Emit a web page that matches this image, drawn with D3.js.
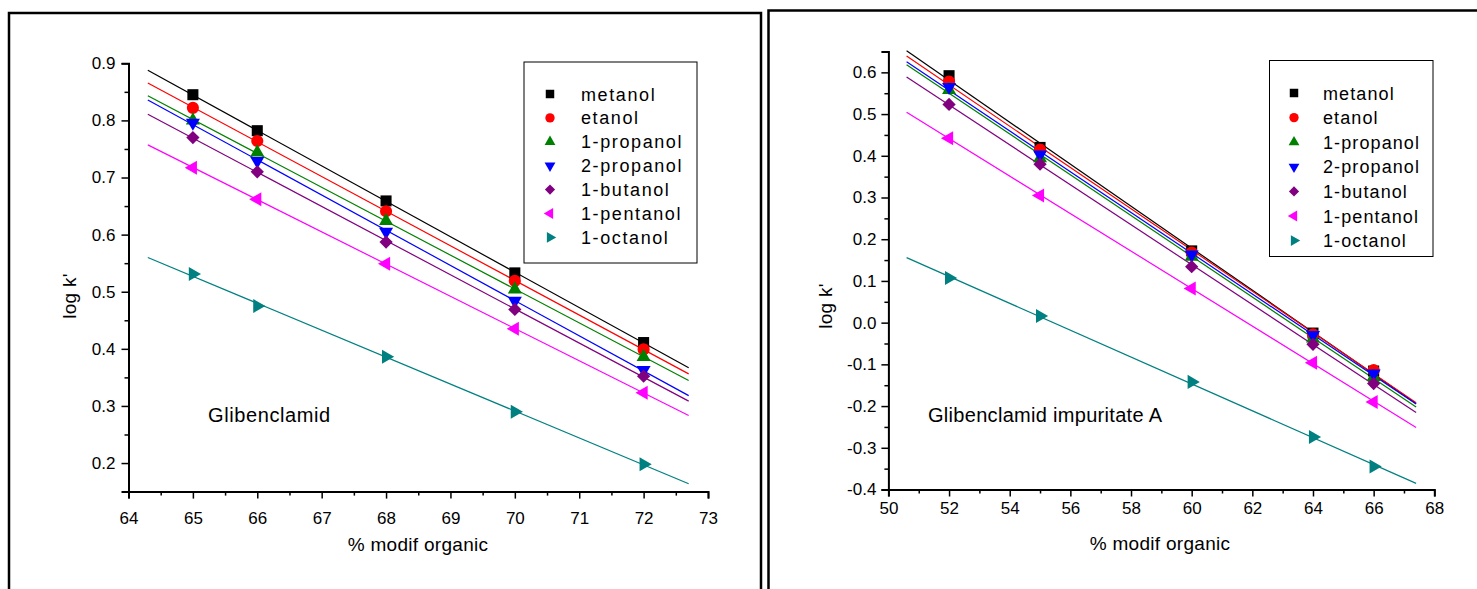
<!DOCTYPE html>
<html>
<head>
<meta charset="utf-8">
<script src="https://cdn.jsdelivr.net/npm/d3@7"></script>
<style>
  html, body { margin: 0; padding: 0; background: #fff; }
  svg { display: block; font-family: "Liberation Sans", Arial, sans-serif; }
</style>
</head>
<body>
<svg id="chart" width="1477" height="589"></svg>
<script>
// Solvent series (modifier alcohols)
const seriesNames = ["metanol", "etanol", "1-propanol", "2-propanol", "1-butanol", "1-pentanol", "1-octanol"];
const seriesColors = ["#000000", "#ff0000", "#008000", "#0000ff", "#800080", "#ff00ff", "#008080"];

// Glibenclamid: log k' vs % organic modifier
const leftX = [65, 66, 68, 70, 72];
const leftMetanol   = [0.845, 0.782, 0.659, 0.533, 0.411];
const leftEtanol    = [0.822, 0.764, 0.641, 0.519, 0.399];
const leftPropanol1 = [0.800, 0.744, 0.624, 0.504, 0.386];
const leftPropanol2 = [0.796, 0.729, 0.605, 0.484, 0.363];
const leftButanol   = [0.770, 0.710, 0.587, 0.469, 0.352];
const leftPentanol  = [0.717, 0.662, 0.549, 0.435, 0.323];
const leftOctanol   = [0.531, 0.475, 0.386, 0.290, 0.198];
const leftXTicks = [64, 65, 66, 67, 68, 69, 70, 71, 72, 73];
const leftYTicks = [0.2, 0.3, 0.4, 0.5, 0.6, 0.7, 0.8, 0.9];

// Glibenclamid impuritate A
const rightX = [52, 55, 60, 64, 66];
const rightMetanol   = [0.592, 0.420, 0.172, -0.025, -0.116];
const rightEtanol    = [0.578, 0.415, 0.168, -0.028, -0.114];
const rightPropanol1 = [0.558, 0.394, 0.158, -0.038, -0.130];
const rightPropanol2 = [0.565, 0.403, 0.163, -0.030, -0.122];
const rightButanol   = [0.523, 0.380, 0.134, -0.052, -0.146];
const rightPentanol  = [0.442, 0.305, 0.082, -0.096, -0.190];
const rightOctanol   = [0.107, 0.016, -0.142, -0.274, -0.345];
const rightXTicks = [50, 52, 54, 56, 58, 60, 62, 64, 66, 68];
const rightYTicks = [-0.4, -0.3, -0.2, -0.1, 0.0, 0.1, 0.2, 0.3, 0.4, 0.5, 0.6];

const svg = d3.select("#chart");

// marker shapes: symbol type + rotation
const markerShapes = [
  { type: d3.symbolSquare, rot: 0, k: 1.0 },
  { type: d3.symbolCircle, rot: 0, k: 0.95 },
  { type: d3.symbolTriangle, rot: 0, k: 0.7 },
  { type: d3.symbolTriangle, rot: 180, k: 0.7 },
  { type: d3.symbolSquare, rot: 45, k: 0.72 },
  { type: d3.symbolTriangle, rot: -90, k: 0.7 },
  { type: d3.symbolTriangle, rot: 90, k: 0.7 }
];

function fitLine(xs, ys) {
  const mx = d3.mean(xs), my = d3.mean(ys);
  let sxy = 0, sxx = 0;
  xs.forEach((x, i) => { sxy += (x - mx) * (ys[i] - my); sxx += (x - mx) * (x - mx); });
  const b = sxy / sxx;
  return x => my + b * (x - mx);
}

const fmt1 = d => d.toFixed(1).replace("\u2212", "-");

function drawPanel(cfg) {
  const g = svg.append("g");
  const x = d3.scaleLinear().domain(cfg.xDomain).range(cfg.xRange);
  const y = d3.scaleLinear().domain(cfg.yDomain).range(cfg.yRange);

  // fitted lines and points
  cfg.series.forEach((vals, si) => {
    const f = fitLine(cfg.xs, vals);
    g.append("line")
      .attr("x1", x(cfg.fitDomain[0])).attr("y1", y(f(cfg.fitDomain[0])))
      .attr("x2", x(cfg.fitDomain[1])).attr("y2", y(f(cfg.fitDomain[1])))
      .attr("stroke", seriesColors[si]).attr("stroke-width", 1.2);
  });
  cfg.series.forEach((vals, si) => {
    const shp = markerShapes[si];
    const sym = d3.symbol().type(shp.type).size(122 * shp.k);
    g.selectAll(null).data(cfg.xs.map((xv, i) => [xv, vals[i]])).enter()
      .append("path")
      .attr("d", sym)
      .attr("transform", d => `translate(${x(d[0])},${y(d[1])}) rotate(${shp.rot})`)
      .attr("fill", seriesColors[si]);
  });

  // axes
  const xAxis = g.append("g").attr("transform", `translate(0,${cfg.yRange[0]})`)
    .call(d3.axisBottom(x).tickValues(cfg.xTicks).tickSize(7).tickPadding(cfg.xPad).tickFormat(d => String(d)));
  const xMinor = g.append("g").attr("transform", `translate(0,${cfg.yRange[0]})`)
    .call(d3.axisBottom(x).tickValues(cfg.xMinor).tickSize(4).tickFormat(""));
  const yAxis = g.append("g").attr("transform", `translate(${cfg.xRange[0]},0)`)
    .call(d3.axisLeft(y).tickValues(cfg.yTicks).tickSize(7).tickPadding(cfg.yPad).tickFormat(fmt1));
  const yMinor = g.append("g").attr("transform", `translate(${cfg.xRange[0]},0)`)
    .call(d3.axisLeft(y).tickValues(cfg.yMinor).tickSize(4).tickFormat(""));
  [xAxis, xMinor, yAxis, yMinor].forEach(a => {
    a.select(".domain").attr("stroke", "#000").attr("stroke-width", 2);
    a.selectAll(".tick line").attr("stroke", "#000").attr("stroke-width", 1.5);
    a.selectAll(".tick text").attr("font-size", 17).attr("fill", "#000")
      .attr("font-family", '"Liberation Sans", Arial, sans-serif');
  });
  [xMinor, yMinor].forEach(a => a.select(".domain").remove());

  // axis titles
  g.append("text").attr("x", cfg.xTitle[0]).attr("y", cfg.xTitle[1])
    .attr("text-anchor", "middle").attr("font-size", 19).attr("letter-spacing", 0.3)
    .text("% modif organic");
  g.append("text")
    .attr("transform", `translate(${cfg.yTitle[0]},${cfg.yTitle[1]}) rotate(-90)`)
    .attr("text-anchor", "middle").attr("font-size", 19).attr("letter-spacing", 0.3)
    .text("log k'");

  // compound name
  g.append("text").attr("x", cfg.name[0]).attr("y", cfg.name[1])
    .attr("font-size", 20).attr("letter-spacing", cfg.nameLs).text(cfg.nameText);

  // legend
  const lg = g.append("g");
  lg.append("rect").attr("x", cfg.legBox[0]).attr("y", cfg.legBox[1])
    .attr("width", cfg.legBox[2]).attr("height", cfg.legBox[3])
    .attr("fill", "#fff").attr("stroke", "#000").attr("stroke-width", 1);
  seriesNames.forEach((nm, si) => {
    const yy = cfg.legY0 + si * cfg.legStep;
    const shp = markerShapes[si];
    lg.append("path")
      .attr("d", d3.symbol().type(shp.type).size(72 * shp.k))
      .attr("transform", `translate(${cfg.legMarkX},${yy}) rotate(${shp.rot})`)
      .attr("fill", seriesColors[si]);
    lg.append("text").attr("x", cfg.legTextX).attr("y", yy + 6.5)
      .attr("font-size", 18).attr("letter-spacing", cfg.legLs).text(nm);
  });
}

// panel frames
svg.append("rect").attr("x", 9).attr("y", 13).attr("width", 752).attr("height", 620)
  .attr("fill", "none").attr("stroke", "#000").attr("stroke-width", 2.5);
svg.append("rect").attr("x", 768.5).attr("y", 10.5).attr("width", 760).attr("height", 620)
  .attr("fill", "none").attr("stroke", "#000").attr("stroke-width", 2.5);

drawPanel({
  xs: leftX,
  series: [leftMetanol, leftEtanol, leftPropanol1, leftPropanol2, leftButanol, leftPentanol, leftOctanol],
  xDomain: [64, 73], xRange: [128.5, 708],
  yDomain: [0.15, 0.9], yRange: [491.6, 63.3],
  fitDomain: [64.3, 72.7],
  xTicks: leftXTicks, xMinor: d3.range(64.5, 73, 1),
  yTicks: leftYTicks, yMinor: d3.range(0.25, 0.9, 0.1),
  xPad: 13, yPad: 6,
  xTitle: [418, 551], yTitle: [76, 296],
  name: [208, 422], nameText: "Glibenclamid", nameLs: 0.6,
  legBox: [524, 62, 173, 201], legY0: 94, legStep: 23.9, legMarkX: 550, legTextX: 581, legLs: 1.6
});

drawPanel({
  xs: rightX,
  series: [rightMetanol, rightEtanol, rightPropanol1, rightPropanol2, rightButanol, rightPentanol, rightOctanol],
  xDomain: [50, 68], xRange: [888.4, 1434.3],
  yDomain: [-0.4, 0.65], yRange: [489.5, 51.5],
  fitDomain: [50.6, 67.4],
  xTicks: rightXTicks, xMinor: d3.range(51, 68, 2),
  yTicks: rightYTicks, yMinor: d3.range(-0.35, 0.65, 0.1),
  xPad: 5, yPad: 5,
  xTitle: [1160, 550], yTitle: [832, 306],
  name: [928, 422], nameText: "Glibenclamid impuritate A", nameLs: 0.3,
  legBox: [1269.5, 60.5, 163.5, 196], legY0: 93, legStep: 24.6, legMarkX: 1294, legTextX: 1323, legLs: 1.1
});
</script>
</body>
</html>
